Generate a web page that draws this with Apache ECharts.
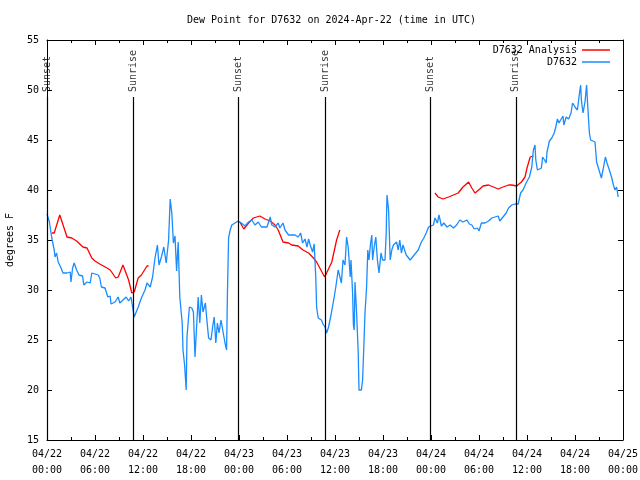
<!DOCTYPE html>
<html>
<head>
<meta charset="utf-8">
<script src="https://cdn.jsdelivr.net/npm/echarts@6/dist/echarts.min.js"></script>
<style>html,body{margin:0;padding:0;background:#fff}#c{width:640px;height:480px}</style>
</head>
<body>
<div id="c"></div>
<script>
// Hours since 2024-04-22 00:00 UTC
const hoursBlue = [0.0,0.3,0.6,0.9,1.0,1.2,1.4,1.7,2.0,2.5,2.9,3.0,3.2,3.4,3.7,4.0,4.45,4.6,5.0,5.4,5.6,6.0,6.4,6.6,6.8,7.25,7.6,7.9,8.0,8.5,8.9,9.1,9.5,9.9,10.2,10.5,10.7,10.9,11.1,11.4,11.8,12.25,12.5,12.9,13.2,13.5,13.8,14.0,14.3,14.6,14.9,15.2,15.4,15.6,15.8,16.0,16.2,16.4,16.6,16.9,17.0,17.2,17.4,17.5,17.8,18.1,18.3,18.5,18.7,18.9,19.1,19.3,19.5,19.8,19.95,20.2,20.5,20.7,20.9,21.1,21.3,21.5,21.75,21.95,22.25,22.45,22.55,22.7,22.9,23.1,23.5,23.9,24.3,24.75,25.2,25.6,26.0,26.4,26.8,27.5,27.9,28.1,28.5,28.9,29.1,29.5,29.75,30.2,30.6,31.0,31.4,31.7,31.95,32.25,32.5,32.7,32.9,33.2,33.4,33.6,33.7,33.9,34.3,34.5,34.75,34.95,35.2,35.5,35.7,35.9,36.1,36.4,36.6,36.8,37.0,37.25,37.45,37.65,37.9,38.0,38.2,38.3,38.4,38.5,38.7,38.9,39.0,39.3,39.45,39.6,39.75,39.95,40.1,40.25,40.45,40.6,40.7,40.9,41.1,41.3,41.5,41.75,41.95,42.25,42.4,42.5,42.7,42.9,43.1,43.3,43.7,43.9,44.1,44.3,44.5,44.9,45.4,45.8,46.0,46.4,46.8,47.1,47.4,47.7,47.9,48.3,48.5,48.8,49.0,49.3,49.6,50.0,50.4,50.8,51.2,51.6,52.0,52.5,52.8,53.1,53.4,53.8,54.0,54.3,54.75,55.2,55.6,56.0,56.4,56.6,57.0,57.4,57.7,58.1,58.5,58.9,59.2,59.5,59.95,60.3,60.6,60.8,61.0,61.1,61.3,61.5,61.8,61.95,62.2,62.4,62.5,62.8,63.1,63.4,63.6,63.8,64.0,64.2,64.5,64.6,64.9,65.2,65.5,65.7,66.0,66.3,66.5,66.7,66.8,67.0,67.25,67.45,67.6,67.8,67.95,68.2,68.5,68.7,69.0,69.3,69.5,69.8,70.0,70.3,70.6,70.8,71.0,71.2,71.4];
const dewBlue = [37.6,36.8,35.2,34.0,33.3,33.7,32.8,32.3,31.7,31.7,31.8,30.8,32.2,32.7,32.0,31.5,31.4,30.5,30.8,30.7,31.7,31.6,31.5,31.2,30.3,30.2,29.3,29.4,28.6,28.8,29.3,28.7,29.0,29.3,28.9,29.3,28.3,27.3,27.3,28.3,29.2,30.0,30.7,30.3,31.3,33.2,34.5,32.5,33.3,34.3,32.7,35.0,39.1,37.7,34.7,35.4,31.9,34.8,29.3,26.7,24.0,22.5,20.0,25.3,28.3,28.2,27.8,23.3,26.3,29.3,26.7,29.5,27.8,28.7,27.3,25.2,25.0,26.3,27.3,24.7,26.7,25.7,27.0,27.0,24.7,24.0,29.5,35.2,36.0,36.5,36.7,36.9,36.7,36.4,36.8,37.0,36.5,36.8,36.3,36.3,37.3,36.5,36.3,36.7,36.2,36.7,36.0,35.5,35.5,35.5,35.3,35.7,34.7,35.1,34.3,35.1,34.5,33.8,34.6,31.2,28.3,27.2,27.0,26.6,26.3,25.7,26.3,27.5,27.7,29.3,30.3,32.0,32.2,30.7,33.0,32.5,35.3,34.3,31.3,33.0,29.7,26.5,26.0,30.8,27.7,23.8,20.0,20.0,21.0,24.3,27.7,30.3,34.0,33.0,34.7,35.5,33.0,34.3,35.3,33.0,31.7,33.7,33.0,33.0,35.7,39.5,38.0,33.0,34.0,34.5,34.8,34.0,35.0,33.7,34.5,33.5,33.0,33.4,33.2,34.0,34.8,35.2,35.7,36.3,36.4,36.5,37.2,36.7,37.5,36.4,36.7,36.3,36.5,36.2,36.5,37.0,36.8,37.0,36.6,36.5,36.1,36.2,35.9,36.7,36.7,36.9,37.2,37.3,37.4,36.9,37.3,37.7,38.2,38.5,38.6,38.6,39.7,40.0,40.8,41.3,42.3,44.0,44.5,43.0,42.0,42.2,42.2,43.3,43.0,42.7,43.8,44.9,45.2,45.7,46.3,47.1,46.7,47.0,47.4,46.5,47.3,47.1,47.7,48.7,48.3,48.0,49.3,50.5,49.0,47.7,48.8,50.5,48.3,45.7,45.0,45.2,44.8,42.8,42.0,41.2,42.0,43.3,42.7,42.0,41.2,40.5,40.0,40.3,39.3];

const hoursAnalysis = [0.6,0.9,1.6,1.8,2.5,3.1,3.7,4.5,5.0,5.6,6.0,6.6,7.5,7.9,8.6,8.9,9.5,9.75,10.2,10.6,10.9,11.4,11.8,12.5,12.7,
  18.0,
  24.1,24.6,25.2,25.8,26.6,27.25,27.9,28.5,28.9,29.5,30.2,30.6,31.4,32.0,32.7,33.3,33.7,34.1,34.7,34.95,35.6,36.2,36.6,
  42.0,
  48.5,48.9,49.5,50.2,50.8,51.4,52.0,52.7,53.1,53.5,54.1,54.5,55.2,55.8,56.4,57.0,57.7,58.1,58.7,59.3,59.75,60.0,60.4,60.8];
const dewAnalysis = [35.7,35.7,37.5,37.4,35.3,35.2,34.9,34.3,34.2,33.2,32.9,32.6,32.2,32.0,31.2,31.3,32.5,32.4,31.0,29.7,29.8,31.2,31.5,32.4,32.4,
  null,
  36.8,36.1,36.7,37.2,37.4,37.1,36.9,36.5,36.0,34.8,34.7,34.5,34.4,34.0,33.7,33.2,32.8,32.2,31.3,31.7,32.8,35.0,36.0,
  null,
  39.7,39.3,39.1,39.3,39.5,39.7,40.3,40.8,40.2,39.7,40.1,40.4,40.5,40.3,40.1,40.3,40.5,40.5,40.4,40.8,41.3,42.2,43.3,43.4];

const eventHours = [0.0, 10.75, 23.9, 34.75, 47.9, 58.6];
const eventNames = ['Sunset', 'Sunrise', 'Sunset', 'Sunrise', 'Sunset', 'Sunrise'];

const FONT = 'DejaVu Sans Mono';
const blueData = hoursBlue.map((h, i) => [h, dewBlue[i]]);
const redData = hoursAnalysis.map((h, i) => [h, dewAnalysis[i] === null ? '-' : dewAnalysis[i]]);
const lineTop = 49.3, labelBase = 49.8;

function xFmt(v) {
  const day = 22 + Math.floor(v / 24);
  const hh = v % 24;
  return '04/' + day + '\n' + (hh < 10 ? '0' : '') + hh + ':00';
}

const chart = echarts.init(document.getElementById('c'), null, {renderer: 'canvas'});
const xBase = {type: 'value', min: 0, max: 72, interval: 6,
  axisLine: {show: true, onZero: false, lineStyle: {color: '#000', width: 1}},
  axisTick: {show: true, inside: true, length: 5, lineStyle: {color: '#000'}},
  minorTick: {show: true, splitNumber: 2, length: 3, lineStyle: {color: '#000'}},
  splitLine: {show: false}};
const yBase = {type: 'value', min: 15, max: 55, interval: 5,
  axisLine: {show: true, onZero: false, lineStyle: {color: '#000', width: 1}},
  axisTick: {show: true, inside: true, length: 5, lineStyle: {color: '#000'}},
  splitLine: {show: false}};

chart.setOption({
  animation: false,
  backgroundColor: '#fff',
  title: {text: 'Dew Point for D7632 on 2024-Apr-22 (time in UTC)', left: 187, top: 15, padding: 0,
    textStyle: {fontFamily: FONT, fontSize: 10, fontWeight: 'normal', color: '#000'}},
  grid: {left: 47, right: 17, top: 40, bottom: 40, containLabel: false, outerBoundsMode: 'none'},
  legend: [
    {data: ['D7632 Analysis'], right: 30, top: 45, padding: 0, align: 'right', icon: 'rect',
     itemWidth: 28, itemHeight: 1.5, textStyle: {fontFamily: FONT, fontSize: 10, color: '#000'}},
    {data: ['D7632'], right: 30, top: 57, padding: 0, align: 'right', icon: 'rect',
     itemWidth: 28, itemHeight: 1.5, textStyle: {fontFamily: FONT, fontSize: 10, color: '#000'}}
  ],
  xAxis: [
    Object.assign({}, xBase, {position: 'bottom',
      axisLabel: {formatter: xFmt, fontFamily: FONT, fontSize: 10, color: '#000', lineHeight: 16, margin: 6}}),
    Object.assign({}, xBase, {position: 'top', axisLabel: {show: false}})
  ],
  yAxis: [
    Object.assign({}, yBase, {position: 'left', name: 'degrees F', nameLocation: 'middle', nameGap: 32,
      nameTextStyle: {fontFamily: FONT, fontSize: 10, color: '#000'},
      axisLabel: {fontFamily: FONT, fontSize: 10, color: '#000', margin: 8}}),
    Object.assign({}, yBase, {position: 'right', axisLabel: {show: false}})
  ],
  series: [
    {name: 'D7632 Analysis', type: 'line', data: redData, showSymbol: false, symbol: 'none',
     lineStyle: {color: '#ff0000', width: 1.3}, itemStyle: {color: '#ff0000'}, connectNulls: false},
    {name: 'D7632', type: 'line', data: blueData, showSymbol: false, symbol: 'none',
     lineStyle: {color: '#1a8cff', width: 1.3}, itemStyle: {color: '#1a8cff'},
     markLine: {silent: true, symbol: ['none', 'none'], animation: false,
       lineStyle: {color: '#000', width: 1.2, type: 'solid'}, label: {show: false},
       data: eventHours.map(h => [{coord: [h, lineTop]}, {coord: [h, 15]}])}},
    {name: 'events', type: 'scatter', symbolSize: 0, silent: true,
     data: eventHours.map((h, i) => ({value: [h, labelBase], name: eventNames[i]})),
     label: {show: true, formatter: p => p.name, position: 'right', distance: 0, rotate: 90,
       align: 'left', verticalAlign: 'middle', fontFamily: FONT, fontSize: 10, color: '#000'}}
  ]
});
</script>
</body>
</html>
